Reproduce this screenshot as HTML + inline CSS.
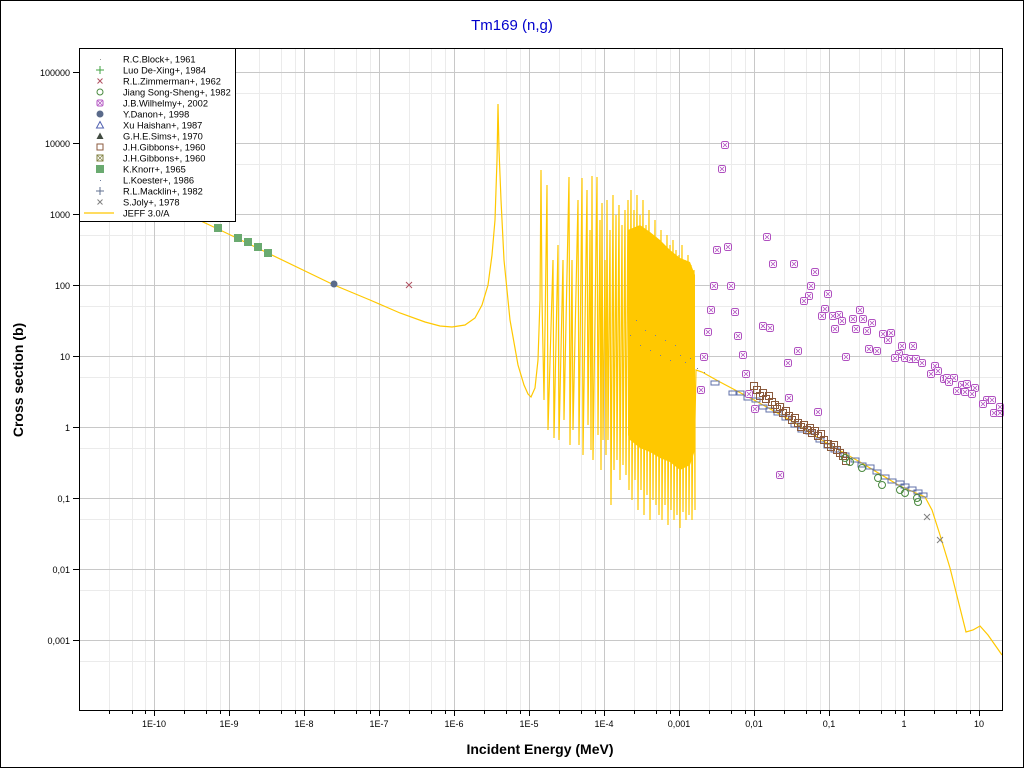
<!DOCTYPE html>
<html><head><meta charset="utf-8">
<style>
html,body{margin:0;padding:0;background:#fff;}
svg{display:block;}
text{font-family:"Liberation Sans",sans-serif;}
</style></head>
<body>
<svg width="1024" height="768" xmlns="http://www.w3.org/2000/svg" xmlns:xlink="http://www.w3.org/1999/xlink">
<defs>
<g id="w"><rect x="-3.5" y="-3.5" width="7" height="7" rx="1.8" fill="#fff" stroke="#b050c0"/><path d="M-2 -2L2 2M2 -2L-2 2" stroke="#b050c0" stroke-width="0.8"/></g>
<rect id="b" x="-4" y="-2" width="8" height="4" fill="none" stroke="#6070a8"/>
<rect id="br" x="-3.5" y="-3.5" width="7" height="7" fill="none" stroke="#8b5a3c"/>
<circle id="g" r="3.5" fill="none" stroke="#4a8a40"/>
</defs>
<rect x="0.5" y="0.5" width="1023" height="767" fill="#fff" stroke="#000"/>
<text x="512" y="30" text-anchor="middle" font-size="15" fill="#0000cc">Tm169 (n,g)</text>
<path stroke="#ebebeb" fill="none" d="
M109.5 49V710M132.5 49V710M145.5 49V710
M184.5 49V710M206.5 49V710M220.5 49V710
M259.5 49V710M281.5 49V710M295.5 49V710
M334.5 49V710M356.5 49V710M370.5 49V710
M409.5 49V710M431.5 49V710M445.5 49V710
M484.5 49V710M506.5 49V710M520.5 49V710
M559.5 49V710M581.5 49V710M595.5 49V710
M634.5 49V710M656.5 49V710M670.5 49V710
M709.5 49V710M731.5 49V710M745.5 49V710
M784.5 49V710M806.5 49V710M820.5 49V710
M859.5 49V710M881.5 49V710M895.5 49V710
M934.5 49V710M956.5 49V710M970.5 49V710
M80 93.5H1002M80 164.5H1002M80 235.5H1002M80 306.5H1002M80 377.5H1002M80 448.5H1002M80 519.5H1002M80 590.5H1002M80 661.5H1002"/>
<path stroke="#c8c8c8" fill="none" d="
M154.5 49V710M229.5 49V710M304.5 49V710M379.5 49V710M454.5 49V710M529.5 49V710M604.5 49V710M679.5 49V710M754.5 49V710M829.5 49V710M904.5 49V710M979.5 49V710
M80 72.5H1002M80 143.5H1002M80 214.5H1002M80 285.5H1002M80 356.5H1002M80 427.5H1002M80 498.5H1002M80 569.5H1002M80 640.5H1002"/>

<g stroke="#ffc800" stroke-width="1.2" fill="none">
<path d="M79 164L218 229L334 285L370 300L400 313L425 322L440 326L452 327L465 325L475 318L482 305L488 285L492 255L495 220L497 160L498 104L499 150L501 200L504 260L510 320L518 365L524 385L528 394L531 397L535 388L538 360L540 300L541 170L542 300L544 400
L547 185L548 430L553 260L554 438L558 245L559 440L563 260L564 420L569 177L570 445L572 260L573 430L578 200L579 445L582 178L583 455L587 190L588 425L590 230L591 450L592 176L593 460L597 177L598 435L600 220L601 470L602 203L603 440L605 260L606 455L607 200L608 440L610 230L611 505L613 195L614 470L616 215L617 460L619 205L620 480L622 225L623 465L625 210L626 475L628 200L629 490
L631 190L632 500L634 210L635 480L637 195L638 510L640 215L641 490L643 200L644 515L646 225L647 495L649 210L650 520L652 235L653 500L655 220L656 505L658 240L659 515L661 230L662 520L664 245L665 505L667 235L668 525L670 245L671 510L673 240L674 520L676 250L677 515L679 255L680 528L682 245L683 512L685 260L686 520L688 255L689 515L691 265L692 520L694 270L695 510
L695 420L696 370L702 372L720 382L754 400L790 420L830 445L860 462L900 486L925 497L932 510L940 535L950 568L958 600L966 632L973 630L980 626L988 635L995 645L1002 655"/>
</g>
<polygon fill="#ffc800" points="628,230 640,225 650,232 660,240 670,250 680,258 690,262 695,275 695,450 690,465 680,470 670,462 660,458 650,452 640,448 630,440 628,435"/>

<g fill="#6aaa70"><rect x="214" y="224" width="8" height="8"/><rect x="234" y="234" width="8" height="8"/><rect x="244" y="238" width="8" height="8"/><rect x="254" y="243" width="8" height="8"/><rect x="264" y="249" width="8" height="8"/></g>
<circle cx="334" cy="284" r="3.5" fill="#5a6a8a"/>
<path d="M406 282L412 288M412 282L406 288" stroke="#b05060"/>
<path d="M924 514L930 520M930 514L924 520M937 537L943 543M943 537L937 543" stroke="#808080"/>
<g fill="#7080a0"><rect x="630" y="335" width="1" height="1"/><rect x="636" y="320" width="1" height="1"/><rect x="640" y="345" width="1" height="1"/><rect x="645" y="330" width="1" height="1"/><rect x="650" y="350" width="1" height="1"/><rect x="655" y="335" width="1" height="1"/><rect x="660" y="355" width="1" height="1"/><rect x="665" y="340" width="1" height="1"/><rect x="670" y="360" width="1" height="1"/><rect x="675" y="345" width="1" height="1"/><rect x="680" y="355" width="1" height="1"/><rect x="685" y="362" width="1" height="1"/><rect x="690" y="358" width="1" height="1"/><rect x="697" y="368" width="1" height="1"/><rect x="704" y="372" width="1" height="1"/></g>
<g>
<use xlink:href="#b" x="715" y="383"/><use xlink:href="#b" x="733" y="393"/><use xlink:href="#b" x="740" y="393"/><use xlink:href="#b" x="748" y="398"/><use xlink:href="#b" x="756" y="400"/><use xlink:href="#b" x="763" y="407"/><use xlink:href="#b" x="770" y="410"/><use xlink:href="#b" x="778" y="413"/><use xlink:href="#b" x="786" y="418"/><use xlink:href="#b" x="795" y="425"/><use xlink:href="#b" x="802" y="430"/><use xlink:href="#b" x="810" y="432"/><use xlink:href="#b" x="820" y="440"/><use xlink:href="#b" x="828" y="446"/><use xlink:href="#b" x="835" y="450"/><use xlink:href="#b" x="845" y="455"/><use xlink:href="#b" x="855" y="460"/><use xlink:href="#b" x="862" y="465"/><use xlink:href="#b" x="870" y="467"/><use xlink:href="#b" x="877" y="472"/><use xlink:href="#b" x="885" y="477"/><use xlink:href="#b" x="892" y="481"/><use xlink:href="#b" x="900" y="483"/><use xlink:href="#b" x="905" y="486"/><use xlink:href="#b" x="912" y="489"/><use xlink:href="#b" x="918" y="492"/><use xlink:href="#b" x="923" y="495"/>
</g>
<g>
<use xlink:href="#br" x="754" y="386"/><use xlink:href="#br" x="757" y="390"/><use xlink:href="#br" x="760" y="396"/><use xlink:href="#br" x="763" y="393"/><use xlink:href="#br" x="766" y="399"/><use xlink:href="#br" x="769" y="396"/><use xlink:href="#br" x="772" y="402"/><use xlink:href="#br" x="775" y="405"/><use xlink:href="#br" x="777" y="409"/><use xlink:href="#br" x="780" y="407"/><use xlink:href="#br" x="783" y="413"/><use xlink:href="#br" x="786" y="411"/><use xlink:href="#br" x="789" y="416"/><use xlink:href="#br" x="792" y="420"/><use xlink:href="#br" x="795" y="418"/><use xlink:href="#br" x="798" y="423"/><use xlink:href="#br" x="801" y="427"/><use xlink:href="#br" x="804" y="425"/><use xlink:href="#br" x="807" y="430"/><use xlink:href="#br" x="810" y="428"/><use xlink:href="#br" x="812" y="433"/><use xlink:href="#br" x="815" y="431"/><use xlink:href="#br" x="818" y="436"/><use xlink:href="#br" x="821" y="434"/><use xlink:href="#br" x="824" y="440"/><use xlink:href="#br" x="828" y="444"/><use xlink:href="#br" x="831" y="447"/><use xlink:href="#br" x="834" y="445"/><use xlink:href="#br" x="837" y="450"/><use xlink:href="#br" x="840" y="453"/><use xlink:href="#br" x="843" y="456"/><use xlink:href="#br" x="846" y="461"/>
</g>
<g>
<use xlink:href="#g" x="845" y="458"/><use xlink:href="#g" x="850" y="462"/><use xlink:href="#g" x="862" y="468"/><use xlink:href="#g" x="878" y="478"/><use xlink:href="#g" x="882" y="485"/><use xlink:href="#g" x="900" y="490"/><use xlink:href="#g" x="905" y="493"/><use xlink:href="#g" x="917" y="498"/><use xlink:href="#g" x="918" y="502"/>
</g>
<g>
<use xlink:href="#w" x="725" y="145"/><use xlink:href="#w" x="722" y="169"/><use xlink:href="#w" x="767" y="237"/><use xlink:href="#w" x="717" y="250"/><use xlink:href="#w" x="728" y="247"/><use xlink:href="#w" x="773" y="264"/><use xlink:href="#w" x="794" y="264"/><use xlink:href="#w" x="815" y="272"/><use xlink:href="#w" x="714" y="286"/><use xlink:href="#w" x="731" y="286"/><use xlink:href="#w" x="811" y="286"/><use xlink:href="#w" x="828" y="294"/><use xlink:href="#w" x="809" y="296"/><use xlink:href="#w" x="804" y="301"/><use xlink:href="#w" x="711" y="310"/><use xlink:href="#w" x="735" y="312"/><use xlink:href="#w" x="825" y="309"/><use xlink:href="#w" x="822" y="316"/><use xlink:href="#w" x="833" y="316"/><use xlink:href="#w" x="839" y="315"/><use xlink:href="#w" x="842" y="321"/><use xlink:href="#w" x="853" y="319"/><use xlink:href="#w" x="860" y="310"/><use xlink:href="#w" x="863" y="319"/><use xlink:href="#w" x="872" y="323"/><use xlink:href="#w" x="835" y="329"/><use xlink:href="#w" x="856" y="329"/><use xlink:href="#w" x="867" y="331"/><use xlink:href="#w" x="708" y="332"/><use xlink:href="#w" x="883" y="334"/><use xlink:href="#w" x="891" y="333"/><use xlink:href="#w" x="888" y="340"/><use xlink:href="#w" x="738" y="336"/><use xlink:href="#w" x="763" y="326"/><use xlink:href="#w" x="770" y="328"/><use xlink:href="#w" x="902" y="346"/><use xlink:href="#w" x="913" y="346"/><use xlink:href="#w" x="869" y="349"/><use xlink:href="#w" x="877" y="351"/><use xlink:href="#w" x="798" y="351"/><use xlink:href="#w" x="899" y="354"/><use xlink:href="#w" x="895" y="358"/><use xlink:href="#w" x="905" y="358"/><use xlink:href="#w" x="911" y="359"/><use xlink:href="#w" x="916" y="359"/><use xlink:href="#w" x="922" y="363"/><use xlink:href="#w" x="846" y="357"/><use xlink:href="#w" x="704" y="357"/><use xlink:href="#w" x="743" y="355"/><use xlink:href="#w" x="788" y="363"/><use xlink:href="#w" x="935" y="366"/><use xlink:href="#w" x="938" y="371"/><use xlink:href="#w" x="931" y="374"/><use xlink:href="#w" x="746" y="374"/><use xlink:href="#w" x="944" y="379"/><use xlink:href="#w" x="947" y="378"/><use xlink:href="#w" x="954" y="378"/><use xlink:href="#w" x="949" y="382"/><use xlink:href="#w" x="962" y="385"/><use xlink:href="#w" x="967" y="384"/><use xlink:href="#w" x="975" y="388"/><use xlink:href="#w" x="957" y="391"/><use xlink:href="#w" x="965" y="392"/><use xlink:href="#w" x="972" y="394"/><use xlink:href="#w" x="987" y="400"/><use xlink:href="#w" x="992" y="400"/><use xlink:href="#w" x="983" y="404"/><use xlink:href="#w" x="994" y="413"/><use xlink:href="#w" x="1000" y="413"/><use xlink:href="#w" x="1000" y="407"/><use xlink:href="#w" x="701" y="390"/><use xlink:href="#w" x="749" y="394"/><use xlink:href="#w" x="789" y="398"/><use xlink:href="#w" x="755" y="409"/><use xlink:href="#w" x="818" y="412"/><use xlink:href="#w" x="780" y="475"/>
</g>

<rect x="79.5" y="48.5" width="923" height="662" fill="none" stroke="#000"/>
<path stroke="#000" fill="none" d="
M154.5 710V716M229.5 710V716M304.5 710V716M379.5 710V716M454.5 710V716M529.5 710V716M604.5 710V716M679.5 710V716M754.5 710V716M829.5 710V716M904.5 710V716M979.5 710V716
M109.5 710V714M132.5 710V714M145.5 710V714M184.5 710V714M206.5 710V714M220.5 710V714M259.5 710V714M281.5 710V714M295.5 710V714M334.5 710V714M356.5 710V714M370.5 710V714M409.5 710V714M431.5 710V714M445.5 710V714M484.5 710V714M506.5 710V714M520.5 710V714M559.5 710V714M581.5 710V714M595.5 710V714M634.5 710V714M656.5 710V714M670.5 710V714M709.5 710V714M731.5 710V714M745.5 710V714M784.5 710V714M806.5 710V714M820.5 710V714M859.5 710V714M881.5 710V714M895.5 710V714M934.5 710V714M956.5 710V714M970.5 710V714
M73 72.5H79M73 143.5H79M73 214.5H79M73 285.5H79M73 356.5H79M73 427.5H79M73 498.5H79M73 569.5H79M73 640.5H79"/>
<g font-size="9" text-anchor="end">
<text x="70" y="76">100000</text><text x="70" y="147">10000</text><text x="70" y="218">1000</text><text x="70" y="289">100</text><text x="70" y="360">10</text><text x="70" y="431">1</text><text x="70" y="502">0,1</text><text x="70" y="573">0,01</text><text x="70" y="644">0,001</text>
</g>
<g font-size="9" text-anchor="middle">
<text x="154" y="727">1E-10</text><text x="229" y="727">1E-9</text><text x="304" y="727">1E-8</text><text x="379" y="727">1E-7</text><text x="454" y="727">1E-6</text><text x="529" y="727">1E-5</text><text x="604" y="727">1E-4</text><text x="679" y="727">0,001</text><text x="754" y="727">0,01</text><text x="829" y="727">0,1</text><text x="904" y="727">1</text><text x="979" y="727">10</text>
</g>
<text x="540" y="754" text-anchor="middle" font-size="14" font-weight="bold">Incident Energy (MeV)</text>
<text transform="translate(23,380) rotate(-90)" text-anchor="middle" font-size="14" font-weight="bold">Cross section (b)</text>

<rect x="79.5" y="48.5" width="156" height="173" fill="#fff" stroke="#000"/>
<g font-size="9.3">
<text x="123" y="62.5">R.C.Block+, 1961</text>
<text x="123" y="73.5">Luo De-Xing+, 1984</text>
<text x="123" y="84.5">R.L.Zimmerman+, 1962</text>
<text x="123" y="95.5">Jiang Song-Sheng+, 1982</text>
<text x="123" y="106.5">J.B.Wilhelmy+, 2002</text>
<text x="123" y="117.5">Y.Danon+, 1998</text>
<text x="123" y="128.5">Xu Haishan+, 1987</text>
<text x="123" y="139.5">G.H.E.Sims+, 1970</text>
<text x="123" y="150.5">J.H.Gibbons+, 1960</text>
<text x="123" y="161.5">J.H.Gibbons+, 1960</text>
<text x="123" y="172.5">K.Knorr+, 1965</text>
<text x="123" y="183.5">L.Koester+, 1986</text>
<text x="123" y="194.5">R.L.Macklin+, 1982</text>
<text x="123" y="205.5">S.Joly+, 1978</text>
<text x="123" y="216.5">JEFF 3.0/A</text>
</g>
<rect x="100" y="59" width="1" height="1" fill="#999"/>
<path d="M96 70H104M100 66V74" stroke="#40a040"/>
<path d="M97.5 78.5L102.5 83.5M102.5 78.5L97.5 83.5" stroke="#b05060"/>
<circle cx="100" cy="92" r="3" fill="none" stroke="#4a8a40"/>
<rect x="97" y="100" width="6" height="6" rx="1.5" fill="none" stroke="#b050c0"/><path d="M98 101L102 105M102 101L98 105" stroke="#b050c0" stroke-width="0.8"/>
<circle cx="100" cy="114" r="3.5" fill="#5a6a8a"/>
<path d="M100 121.5L103.5 128L96.5 128Z" fill="none" stroke="#5060b0"/>
<path d="M100 132.5L103.5 139L96.5 139Z" fill="#404a40"/>
<rect x="97" y="144" width="6" height="6" fill="none" stroke="#8b5a3c"/>
<rect x="97" y="155" width="6" height="6" fill="none" stroke="#808040"/><path d="M97 155L103 161M103 155L97 161" stroke="#808040" stroke-width="0.7"/>
<rect x="96" y="165" width="8" height="8" fill="#6aaa70"/>
<rect x="100" y="180" width="1" height="1" fill="#7080a0"/>
<path d="M96 191H104M100 187V195" stroke="#607090"/>
<path d="M97.5 199.5L102.5 204.5M102.5 199.5L97.5 204.5" stroke="#808080"/>
<line x1="84" y1="213" x2="114" y2="213" stroke="#ffc800" stroke-width="1.2"/>
</svg>
</body></html>
